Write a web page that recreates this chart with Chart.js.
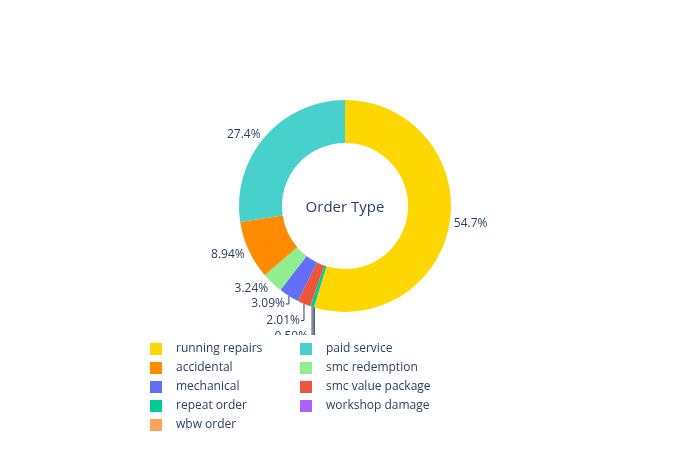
<!DOCTYPE html>
<html>
<head>
<meta charset="utf-8">
<script src="https://cdn.jsdelivr.net/npm/chart.js@4"></script>
<style>
  html, body { margin: 0; padding: 0; background: #fff; }
  #wrap { width: 700px; height: 450px; }
</style>
</head>
<body>
<div id="wrap"><canvas id="graficoDonut" width="700" height="450"></canvas></div>
<script>
// legend order (largest first), values in percent
const categorias = ['running repairs', 'paid service', 'accidental', 'smc redemption', 'mechanical',
                    'smc value package', 'repeat order', 'workshop damage', 'wbw order'];
const percentagens = [54.7, 27.4, 8.94, 3.24, 3.09, 2.01, 0.59, 0.02, 0.01];
const cores = ['#FFD700', '#48D1CC', '#FF8C00', '#90EE90', '#636EFA',
               '#EF553B', '#00CC96', '#AB63FA', '#FFA15A'];
const titulo = 'Order Type';

// plotly goes round the other way: biggest slice first, then the rest reversed
const ordem = [0, 8, 7, 6, 5, 4, 3, 2, 1];

const corTexto = '#2a3f5f';
const fonte = '"Open Sans", "Noto Sans", sans-serif';
const topoLegenda = 335;

function formatarPct(v, total) {
    let txt = (v / total * 100).toPrecision(3);
    if (txt.indexOf('.') !== -1) txt = txt.replace(/\.?0+$/, '');
    return txt + '%';
}

// percent labels outside the ring, pushed down with leader lines when they crowd
const rotulos = {
    id: 'rotulos',
    afterDatasetsDraw(chart) {
        const ctx = chart.ctx;
        const meta = chart.getDatasetMeta(0);
        const valores = chart.data.datasets[0].data;
        const total = valores.reduce((a, b) => a + b, 0);

        const itens = meta.data.map(function(arc, i) {
            const p = arc.getProps(['x', 'y', 'startAngle', 'endAngle', 'outerRadius'], true);
            const meio = (p.startAngle + p.endAngle) / 2;
            const px = p.x + Math.cos(meio) * p.outerRadius;
            const py = p.y + Math.sin(meio) * p.outerRadius;
            return {
                px: px, py: py,
                direita: Math.cos(meio) >= 0,
                y: py + Math.sin(meio) * 6 + 1.5,
                empurrado: false,
                texto: formatarPct(valores[i], total)
            };
        });

        // left side: walk from top-left downwards
        let anterior = null;
        for (let i = itens.length - 1; i >= 0; i--) {
            const it = itens[i];
            if (it.direita) continue;
            if (anterior) {
                const gap = anterior.empurrado ? 16.5 : 15;
                if (it.y < anterior.y + gap) {
                    it.y = anterior.y + gap;
                    it.empurrado = true;
                }
            }
            anterior = it;
        }

        ctx.save();
        ctx.beginPath();
        ctx.rect(0, 0, chart.width, topoLegenda);
        ctx.clip();
        ctx.font = '12px ' + fonte;
        ctx.fillStyle = corTexto;
        ctx.strokeStyle = corTexto;
        ctx.lineWidth = 1;
        ctx.textBaseline = 'middle';
        itens.forEach(function(it) {
            if (it.direita) {
                ctx.textAlign = 'left';
                ctx.fillText(it.texto, it.px + 4, it.y);
            } else {
                ctx.textAlign = 'right';
                ctx.fillText(it.texto, it.px - 4, it.y);
                if (it.empurrado) {
                    ctx.beginPath();
                    ctx.moveTo(it.px, it.py);
                    ctx.lineTo(it.px, it.y);
                    ctx.lineTo(it.px - 3, it.y);
                    ctx.stroke();
                }
            }
        });
        ctx.restore();
    }
};

// centre title and the two-column legend under the ring
const extras = {
    id: 'extras',
    afterDraw(chart) {
        const ctx = chart.ctx;
        const meta = chart.getDatasetMeta(0);
        const arc0 = meta.data[0];
        ctx.save();
        ctx.fillStyle = corTexto;
        ctx.font = '15px ' + fonte;
        ctx.textAlign = 'center';
        ctx.textBaseline = 'middle';
        ctx.fillText(titulo, arc0.x, arc0.y + 1.5);

        ctx.font = '12px ' + fonte;
        ctx.textAlign = 'left';
        categorias.forEach(function(nome, i) {
            const col = i % 2;
            const lin = Math.floor(i / 2);
            const x = 150 + col * 150;
            const y = 349 + lin * 19;
            ctx.fillStyle = cores[i];
            ctx.fillRect(x, y - 6, 12, 12);
            ctx.fillStyle = corTexto;
            ctx.fillText(nome, x + 26, y);
        });
        ctx.restore();
    }
};

document.addEventListener('DOMContentLoaded', function() {
    const ctx = document.getElementById('graficoDonut').getContext('2d');
    new Chart(ctx, {
        type: 'doughnut',
        data: {
            labels: ordem.map(i => categorias[i]),
            datasets: [{
                data: ordem.map(i => percentagens[i]),
                backgroundColor: ordem.map(i => cores[i]),
                borderWidth: 0
            }]
        },
        options: {
            responsive: false,
            animation: false,
            cutout: '59.5%',
            layout: {
                padding: { top: 100, bottom: 138, left: 239, right: 249 }
            },
            plugins: {
                legend: { display: false },
                tooltip: { enabled: false }
            }
        },
        plugins: [rotulos, extras]
    });
});
</script>
</body>
</html>
